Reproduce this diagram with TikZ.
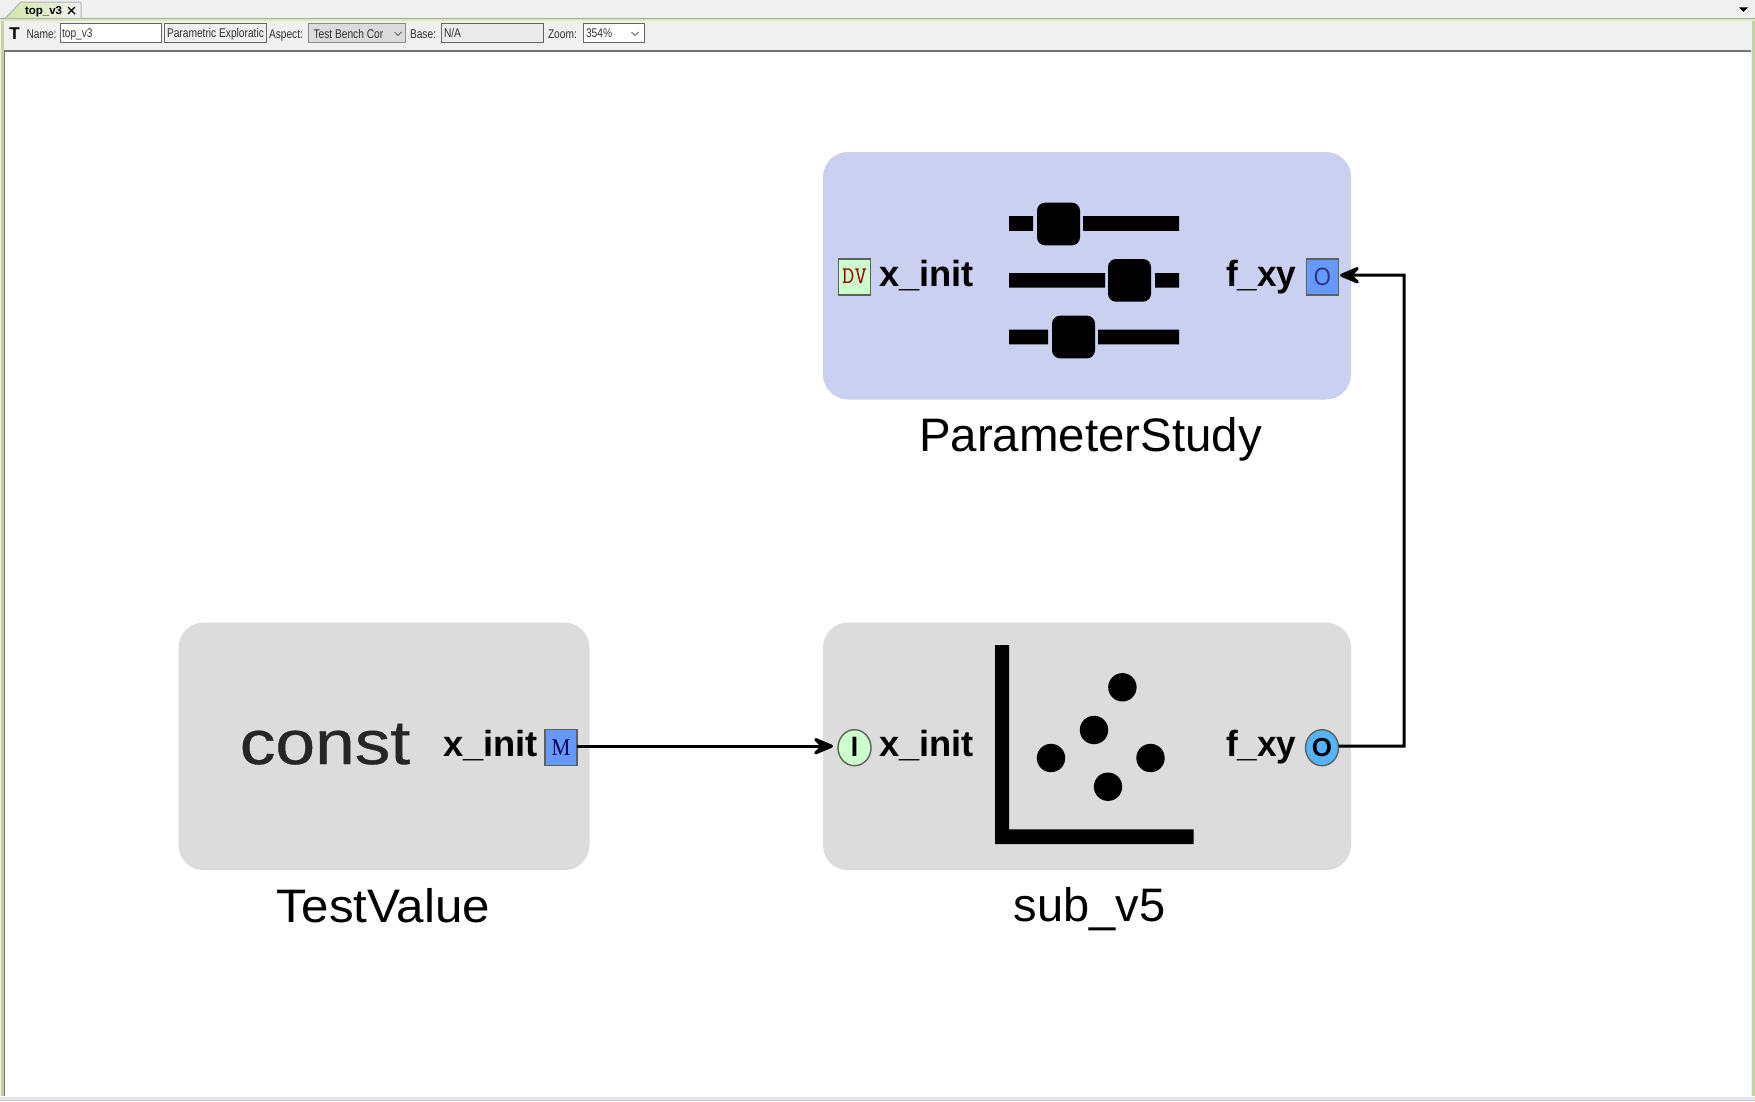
\documentclass[tikz,border=0pt]{standalone}
\usepackage{fontspec}
\setmainfont{Liberation Sans}
\newfontfamily\serifui{Liberation Serif}
\newfontfamily\constfont[FakeBold=0.6]{Liberation Sans}
\usetikzlibrary{arrows.meta,shapes.geometric}
\definecolor{chrome}{HTML}{F0F0F0}
\definecolor{greyblock}{HTML}{DCDCDC}
\definecolor{studyblock}{HTML}{C9D0F0}
\definecolor{portgreen}{HTML}{CCFFCC}
\definecolor{portblue}{HTML}{6699FF}
\definecolor{portcyan}{HTML}{55B4FF}
\definecolor{portedge}{HTML}{5A625A}
\definecolor{tabgreen}{HTML}{D2E6A6}
\definecolor{sidegreen}{HTML}{C6D2A6}
\definecolor{uitext}{HTML}{303030}
\newcommand{\fs}[1]{\fontsize{#1}{#1}\selectfont}
\newcommand{\ui}[1]{\scalebox{.85}[1.05]{#1}}
\tikzset{
  x=1pt,y=-1pt,
  every node/.style={inner sep=0pt,outer sep=0pt},
  block/.style={rounded corners=25pt,minimum width=528pt,minimum height=247.5pt},
  greyb/.style={block,fill=greyblock},
  studyb/.style={block,fill=studyblock},
  portsq/.style={rectangle,draw=portedge,line width=1.4pt,minimum width=32pt,minimum height=36pt},
  portel/.style={ellipse,draw=portedge,line width=1.4pt,minimum width=33pt,minimum height=36pt},
  portname/.style={anchor=base west,font=\fs{36.3}\bfseries},
  blockname/.style={anchor=base,font=\fs{47}},
  conn/.style={draw=black,line width=3pt,miter limit=10},
  head/.style={-{Stealth[length=26pt,width=22pt,inset=11pt,round=false]}},
  bar/.style={fill=black},
  uilabel/.style={anchor=base west,font=\fs{12},text=uitext},
  field/.style={draw=#1,line width=1pt},
}
\begin{document}
\begin{tikzpicture}
\useasboundingbox (0,0) rectangle (1755,1101);
% window chrome
\fill[chrome] (0,0) rectangle (1755,1101);
\fill[sidegreen] (1,19) rectangle (4,1096);
\fill[sidegreen] (1752,19) rectangle (1755,1096);
\fill[tabgreen!70!chrome] (1,19) rectangle (1755,20.5);
\fill[white] (5,52) rectangle (1751,1096);
\fill[white] (0,1096) rectangle (1755,1097);
\fill[black!10] (0,1097) rectangle (1755,1100);
\fill[blue!20!black!20] (0,1100) rectangle (1755,1101);
\draw[black!35,line width=1.2pt] (0,18.3) -- (1755,18.3);
\draw[black!55,line width=1.4pt] (4,51) -- (1751,51);
\draw[black!55,line width=1.4pt] (4.2,51) -- (4.2,1096);
% tab
\path[left color=tabgreen,right color=chrome,draw=black!30,line width=1pt]
  (5,18.5) -- (21,2) -- (80,2) -- (81,3) -- (81,18.5) -- cycle;
\node[anchor=base west,font=\fs{11.5}\bfseries] (tabname) at (25,14.5) {top\_v3};
\draw[line width=1.4pt] (68,7) -- (75,14) (68,14) -- (75,7);
\fill[black] (1739,7.3) -- (1748,7.3) -- (1743.5,11.8) -- cycle;
% toolbar
\node[font=\fs{17}\bfseries] (ticon) at (14.5,34) {T};
\node[uilabel] (lname) at (26.5,38) {\ui{Name:}};
\node[anchor=north west,minimum width=101pt,minimum height=19pt,fill=white,field=black!60] (fname) at (60,23.5) {};
\node[uilabel] at (62,37) {\ui{top\_v3}};
\node[anchor=north west,minimum width=102pt,minimum height=19pt,fill=chrome,field=black!60] (fparam) at (164,23.5) {};
\node[uilabel] at (167,37) {\ui{Parametric Exploratic}};
\node[uilabel] (laspect) at (269,38) {\ui{Aspect:}};
\node[anchor=north west,minimum width=96.5pt,minimum height=19pt,fill=black!14,field=black!45] (faspect) at (308.5,23.5) {};
\node[uilabel] at (313.5,38) {\ui{Test Bench Cor}};
\draw[black!60,line width=.9pt] (394.5,32) -- (398,35.5) -- (401.5,32);
\node[uilabel] (lbase) at (410,38) {\ui{Base:}};
\node[anchor=north west,minimum width=102pt,minimum height=19pt,fill=black!8,field=black!60] (fbase) at (441,23.5) {};
\node[uilabel] at (444,37) {\ui{N/A}};
\node[uilabel] (lzoom) at (548,38) {\ui{Zoom:}};
\node[anchor=north west,minimum width=61pt,minimum height=19pt,fill=white,field=black!60] (fzoom) at (583,23.5) {};
\node[uilabel] at (586,37) {\ui{354\%}};
\draw[black!60,line width=.9pt] (631.5,32) -- (635,35.5) -- (638.5,32);
% blocks
\node[studyb] (study) at (1087,275.75) {};
\node[greyb,minimum width=411pt] (test) at (384,746.35) {};
\node[greyb] (sub) at (1087,746.35) {};
% slider icon
\fill[bar] (1009,216.2) rectangle (1033,230.8) (1083,216.2) rectangle (1179,230.8);
\fill[bar,rounded corners=8pt] (1037,202.7) rectangle (1080,245.3);
\fill[bar] (1009,273) rectangle (1105,287.6) (1155,273) rectangle (1179,287.6);
\fill[bar,rounded corners=8pt] (1108,259) rectangle (1151,301.7);
\fill[bar] (1009,329.7) rectangle (1048,344.3) (1098,329.7) rectangle (1179,344.3);
\fill[bar,rounded corners=8pt] (1052,315.7) rectangle (1095,358.3);
% scatter icon
\fill[bar] (995,645) rectangle (1009,829.3) (995,829.3) rectangle (1193.5,844);
\foreach \px/\py in {1122.4/687.3,1094/730,1051/758,1150.5/758,1108/786.7}
  \fill[bar] (\px,\py) circle[radius=14.2];
% const
\node[anchor=base,font=\constfont\fs{62},text=black!85] (const) at (325,764) {\scalebox{1.15}[1]{const}};
% port names
\node[portname] (n1) at (879,286) {x\_init};
\node[portname] (n2) at (1226,286) {\scalebox{.97}[1]{f\_xy}};
\node[portname] (n3) at (443,756.5) {x\_init};
\node[portname] (n4) at (879,756.5) {x\_init};
\node[portname] (n5) at (1226,756.5) {\scalebox{.97}[1]{f\_xy}};
% block names
\node[blockname] (l1) at (1090.5,451.7) {\scalebox{1.01}[1]{ParameterStudy}};
\node[blockname] (l2) at (383.5,922.7) {\scalebox{1.05}[1]{TestValue}};
\node[blockname] (l3) at (1089.5,921.7) {sub\_v5};
% ports
\node[portsq,fill=portgreen,text=red!60!black,font=\ttfamily\fs{24}] (studyin) at (854.5,276.8) {\raisebox{1.5pt}{DV}};
\node[portsq,fill=portblue,text=blue!35!black!80,font=\fs{25}] (studyout) at (1322.5,276.8) {\raisebox{1pt}{\scalebox{.88}[1]{O}}};
\node[portsq,fill=portblue,text=blue!30!black,font=\serifui\fs{24}] (testout) at (561,747.7) {\raisebox{1pt}{\scalebox{.88}[1]{M}}};
\node[portel,fill=portgreen,font=\fs{28}\bfseries] (subin) at (854.5,747.7) {\raisebox{1pt}{\scalebox{.95}[1]{I}}};
\node[portel,fill=portcyan,font=\fs{26}\bfseries] (subout) at (1322,747.7) {\raisebox{1pt}{O}};
% connectors
\coordinate (bendA) at (1404,746);
\coordinate (bendB) at (1404,275);
\draw[conn,head,shorten >=5pt] ([yshift=1.5pt]testout.east) -- ([yshift=1.5pt]subin.west);
\draw[conn,head,shorten >=1.5pt] ([yshift=1.5pt]subout.east) -- (bendA) -- (bendB) -- ([yshift=1.5pt]studyout.east);
\end{tikzpicture}
\end{document}
